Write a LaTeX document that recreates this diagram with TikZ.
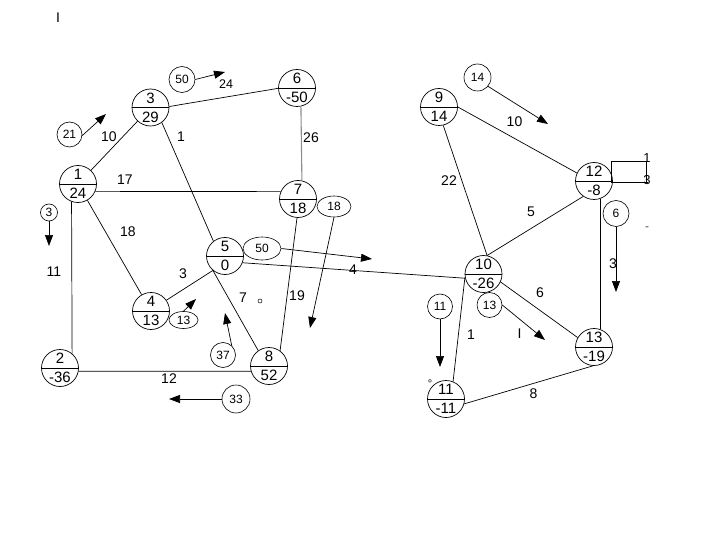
\documentclass[tikz,border=0pt]{standalone}
\usepackage{fontspec}
\setmainfont{Liberation Sans}
\usetikzlibrary{arrows.meta,shapes.geometric}
\tikzset{
  ev/.style={circle, draw, minimum size=37pt, inner sep=0pt, line width=0.7pt},
  evt/.style={font=\fontsize{15}{16}\selectfont, inner sep=0pt},
  lbl/.style={font=\fontsize{14}{16}\selectfont, inner sep=0pt},
  tag/.style={circle, draw, minimum size=26pt, inner sep=0pt, line width=0.6pt, font=\fontsize{12}{14}\selectfont},
  etag/.style={ellipse, draw, inner sep=0pt, line width=0.6pt, font=\fontsize{12}{14}\selectfont},
  edgeline/.style={line width=0.7pt},
  greyline/.style={line width=1.1pt, draw=black!45},
  arr/.style={line width=0.7pt, -{Triangle[length=11pt,width=8pt]}},
}
\newcommand\evnode[4]{%
  \node[ev] (#1) at (#2) {};
  \draw[line width=0.7pt] (#1.west) -- (#1.east);
  \node[evt] (#1t) at ([yshift=9.5pt]#1.center) {#3};
  \node[evt] (#1b) at ([yshift=-9.5pt]#1.center) {#4};
}
\begin{document}
\begin{tikzpicture}[x=1pt,y=-1pt]
\useasboundingbox (0,0) rectangle (720,540);

% event nodes
\evnode{n1}{78,184}{1}{24}
\evnode{n3}{150.5,107.5}{3}{29}
\evnode{n6}{297,88}{6}{-50}
\evnode{n7}{298,199}{7}{18}
\evnode{n5}{225,256}{5}{0}
\evnode{n4}{151,311}{4}{13}
\evnode{n2}{60,368}{2}{-36}
\evnode{n8}{269,366}{8}{52}
\evnode{n9}{439,107}{9}{14}
\evnode{n12}{594,181}{12}{-8}
\evnode{n10}{483.5,274}{10}{-26}
\evnode{n13}{594,347}{13}{-19}
\evnode{n11}{446,399}{11}{-11}

% edges
\draw[edgeline] (n1) -- (n3);
\draw[edgeline] (n1.-23) -- (n7.157);
\draw[edgeline] (n1) -- (n4);
\draw[edgeline] (n1.250) -- (n2.50);
\draw[edgeline] (n2.-10) -- (n8.196);
\draw[edgeline] (n3.3) -- (n6.181);
\draw[edgeline] (n3.-53) -- (n5.128);
\draw[edgeline] (n5.230) -- (n8.125);
\draw[edgeline] (n4.35) -- (n5.230);
\draw[edgeline] (n7.267) -- (n8.54);
\draw[greyline] (n6.-78) -- (n7.78);
\draw[edgeline] (n5.-21) -- (n10.193);
\draw[edgeline] (n9.east) -- (n12.155);
\draw[edgeline] (n9.283) -- (n10.79);
\draw[edgeline] (n12.235) -- (n10.79);
\draw[edgeline] (n12.289) -- (n13.71);
\draw[edgeline] (n10.335) -- (n13.150);
\draw[edgeline] (n10.190) -- (n11.68);
\draw[edgeline] (n11.345) -- (n13.267);

% edge labels
\node[lbl] (l13) at (109,137) {10};
\node[lbl] (l35) at (181,137) {1};
\node[lbl] (l17) at (125,180) {17};
\node[lbl] (l14) at (128,232) {18};
\node[lbl] (l12) at (54,272) {11};
\node[lbl] (l45) at (183,274) {3};
\node[lbl] (l58) at (243,298) {7};
\node[lbl] (l78) at (297,296) {19};
\node[lbl] (l28) at (169,379) {12};
\node[lbl] (l67) at (311,137.5) {26};
\node[lbl, font=\fontsize{12.5}{14}\selectfont] (l36) at (226,84) {24};
\node[lbl] (l510) at (353,270) {4};
\node[lbl] (l910) at (449,180.5) {22};
\node[lbl] (l912) at (514.5,121.5) {10};
\node[lbl] (l1210) at (531,212) {5};
\node[lbl] (l1213) at (613,264) {3};
\node[lbl] (l1013) at (540,293) {6};
\node[lbl] (l1011) at (471,335) {1};
\node[lbl] (lbar) at (519.5,334) {I};
\node[lbl] (l1113) at (533.5,393.5) {8};
\node[lbl] (ltop) at (58,18) {I};

% small marks
\draw[line width=0.5pt] (260,301) circle (2);
\node[font=\fontsize{11}{12}\selectfont, inner sep=0pt] (deg) at (430,384) {°};
\node[font=\fontsize{12}{12}\selectfont, inner sep=0pt, text=black!70] (dash) at (647,229) {-};

% bracket at node 12
\draw[line width=0.7pt] (611,161) -- (646,161) -- (646,182);
\draw[line width=0.7pt] (611,161) -- (611,182) -- (648,182);
\node[font=\fontsize{13}{14}\selectfont, inner sep=0pt] (b1) at (647,158) {1};
\node[font=\fontsize{13}{14}\selectfont, inner sep=0pt] (b3) at (647,180) {3};

% tags and arrows
\node[tag, minimum size=25pt] (t21) at (69.5,134.5) {21};
\coordinate (a21) at (106,114);
\draw[arr] (t21.-5) -- (a21);

\node[tag] (t50) at (182,79.5) {50};
\coordinate (a50) at (225,72);
\draw[arr] (t50.east) -- (a50);

\node[tag, minimum size=27pt] (t14) at (477.5,77.5) {14};
\coordinate (a14) at (548,124);
\draw[arr] (t14.-40) -- (a14);

\node[tag, minimum size=17pt] (t3) at (49,212.5) {3};
\coordinate (a3) at (49,246);
\draw[arr] (t3.south) -- (a3);

\node[etag, minimum width=38pt, minimum height=23pt] (e50) at (262,248.5) {50};
\coordinate (ae50) at (372,259);
\draw[arr] (e50.east) -- (ae50);

\node[etag, minimum width=34pt, minimum height=21pt] (e18) at (334,206.5) {18};
\coordinate (ae18) at (310,328);
\draw[arr] (e18.south) -- (ae18);

\node[etag, minimum width=29pt, minimum height=17pt] (e13) at (183.5,320) {13};
\coordinate (ae13) at (196,299);
\draw[arr] (e13.north) -- (ae13);

\node[tag, minimum size=25pt] (t37) at (223,355) {37};
\coordinate (a37) at (225,313);
\draw[arr] (t37.47) -- (a37);

\node[tag, minimum size=28pt] (t33) at (236,399) {33};
\coordinate (a33) at (169,399);
\draw[arr] (t33.west) -- (a33);

\node[tag, minimum size=25pt] (t11) at (440,306.5) {11};
\coordinate (a11) at (440,367);
\draw[arr] (t11.south) -- (a11);

\node[tag, minimum size=25pt] (t13) at (489.5,305) {13};
\coordinate (a13) at (545,340);
\draw[arr] (t13.east) -- (a13);

\node[tag] (t6) at (616,213.5) {6};
\coordinate (a6) at (616,292);
\draw[arr] (t6.south) -- (a6);
\end{tikzpicture}
\end{document}
